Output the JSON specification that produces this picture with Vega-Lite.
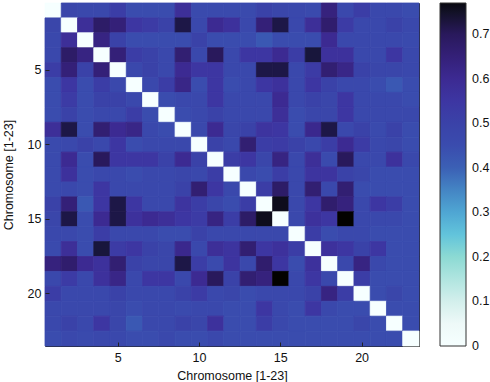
{
"$schema": "https://vega.github.io/schema/vega-lite/v6.json",
"width": 374, "height": 343,
"autosize": "none",
"padding": {"left": 45, "top": 3, "right": 71, "bottom": 36},
"background": "white",
"config": {"view": {"stroke": "#222", "strokeWidth": 1}, "font": "Liberation Sans",
  "axis": {"labelFont": "Liberation Sans", "titleFont": "Liberation Sans", "labelFontSize": 12.5, "titleFontSize": 12.5, "titleFontWeight": "normal", "labelColor": "#111", "titleColor": "#111", "domain": false, "tickColor": "#222", "grid": false},
  "legend": {"labelFont": "Liberation Sans"}},
"data": {"values": [
{"r":1,"c":1,"v":0},{"r":1,"c":2,"v":0.48},{"r":1,"c":3,"v":0.47},{"r":1,"c":4,"v":0.47},{"r":1,"c":5,"v":0.52},{"r":1,"c":6,"v":0.45},{"r":1,"c":7,"v":0.45},{"r":1,"c":8,"v":0.45},{"r":1,"c":9,"v":0.58},{"r":1,"c":10,"v":0.46},{"r":1,"c":11,"v":0.46},{"r":1,"c":12,"v":0.46},{"r":1,"c":13,"v":0.46},{"r":1,"c":14,"v":0.5},{"r":1,"c":15,"v":0.48},{"r":1,"c":16,"v":0.47},{"r":1,"c":17,"v":0.46},{"r":1,"c":18,"v":0.64},{"r":1,"c":19,"v":0.47},{"r":1,"c":20,"v":0.52},{"r":1,"c":21,"v":0.47},{"r":1,"c":22,"v":0.47},{"r":1,"c":23,"v":0.45},
{"r":2,"c":1,"v":0.48},{"r":2,"c":2,"v":0},{"r":2,"c":3,"v":0.58},{"r":2,"c":4,"v":0.68},{"r":2,"c":5,"v":0.65},{"r":2,"c":6,"v":0.55},{"r":2,"c":7,"v":0.53},{"r":2,"c":8,"v":0.5},{"r":2,"c":9,"v":0.72},{"r":2,"c":10,"v":0.47},{"r":2,"c":11,"v":0.6},{"r":2,"c":12,"v":0.57},{"r":2,"c":13,"v":0.47},{"r":2,"c":14,"v":0.65},{"r":2,"c":15,"v":0.72},{"r":2,"c":16,"v":0.47},{"r":2,"c":17,"v":0.58},{"r":2,"c":18,"v":0.67},{"r":2,"c":19,"v":0.53},{"r":2,"c":20,"v":0.47},{"r":2,"c":21,"v":0.47},{"r":2,"c":22,"v":0.5},{"r":2,"c":23,"v":0.47},
{"r":3,"c":1,"v":0.47},{"r":3,"c":2,"v":0.58},{"r":3,"c":3,"v":0},{"r":3,"c":4,"v":0.63},{"r":3,"c":5,"v":0.5},{"r":3,"c":6,"v":0.45},{"r":3,"c":7,"v":0.45},{"r":3,"c":8,"v":0.45},{"r":3,"c":9,"v":0.45},{"r":3,"c":10,"v":0.5},{"r":3,"c":11,"v":0.45},{"r":3,"c":12,"v":0.45},{"r":3,"c":13,"v":0.45},{"r":3,"c":14,"v":0.42},{"r":3,"c":15,"v":0.45},{"r":3,"c":16,"v":0.45},{"r":3,"c":17,"v":0.45},{"r":3,"c":18,"v":0.6},{"r":3,"c":19,"v":0.47},{"r":3,"c":20,"v":0.47},{"r":3,"c":21,"v":0.47},{"r":3,"c":22,"v":0.47},{"r":3,"c":23,"v":0.46},
{"r":4,"c":1,"v":0.47},{"r":4,"c":2,"v":0.68},{"r":4,"c":3,"v":0.63},{"r":4,"c":4,"v":0},{"r":4,"c":5,"v":0.65},{"r":4,"c":6,"v":0.52},{"r":4,"c":7,"v":0.5},{"r":4,"c":8,"v":0.47},{"r":4,"c":9,"v":0.66},{"r":4,"c":10,"v":0.47},{"r":4,"c":11,"v":0.7},{"r":4,"c":12,"v":0.47},{"r":4,"c":13,"v":0.55},{"r":4,"c":14,"v":0.55},{"r":4,"c":15,"v":0.6},{"r":4,"c":16,"v":0.52},{"r":4,"c":17,"v":0.73},{"r":4,"c":18,"v":0.57},{"r":4,"c":19,"v":0.57},{"r":4,"c":20,"v":0.47},{"r":4,"c":21,"v":0.47},{"r":4,"c":22,"v":0.55},{"r":4,"c":23,"v":0.47},
{"r":5,"c":1,"v":0.52},{"r":5,"c":2,"v":0.65},{"r":5,"c":3,"v":0.5},{"r":5,"c":4,"v":0.65},{"r":5,"c":5,"v":0},{"r":5,"c":6,"v":0.47},{"r":5,"c":7,"v":0.5},{"r":5,"c":8,"v":0.47},{"r":5,"c":9,"v":0.6},{"r":5,"c":10,"v":0.55},{"r":5,"c":11,"v":0.55},{"r":5,"c":12,"v":0.47},{"r":5,"c":13,"v":0.47},{"r":5,"c":14,"v":0.72},{"r":5,"c":15,"v":0.72},{"r":5,"c":16,"v":0.47},{"r":5,"c":17,"v":0.53},{"r":5,"c":18,"v":0.66},{"r":5,"c":19,"v":0.62},{"r":5,"c":20,"v":0.5},{"r":5,"c":21,"v":0.48},{"r":5,"c":22,"v":0.48},{"r":5,"c":23,"v":0.47},
{"r":6,"c":1,"v":0.45},{"r":6,"c":2,"v":0.55},{"r":6,"c":3,"v":0.45},{"r":6,"c":4,"v":0.52},{"r":6,"c":5,"v":0.47},{"r":6,"c":6,"v":0},{"r":6,"c":7,"v":0.47},{"r":6,"c":8,"v":0.52},{"r":6,"c":9,"v":0.62},{"r":6,"c":10,"v":0.45},{"r":6,"c":11,"v":0.55},{"r":6,"c":12,"v":0.45},{"r":6,"c":13,"v":0.47},{"r":6,"c":14,"v":0.55},{"r":6,"c":15,"v":0.57},{"r":6,"c":16,"v":0.47},{"r":6,"c":17,"v":0.55},{"r":6,"c":18,"v":0.5},{"r":6,"c":19,"v":0.47},{"r":6,"c":20,"v":0.47},{"r":6,"c":21,"v":0.45},{"r":6,"c":22,"v":0.42},{"r":6,"c":23,"v":0.45},
{"r":7,"c":1,"v":0.45},{"r":7,"c":2,"v":0.53},{"r":7,"c":3,"v":0.45},{"r":7,"c":4,"v":0.5},{"r":7,"c":5,"v":0.5},{"r":7,"c":6,"v":0.47},{"r":7,"c":7,"v":0},{"r":7,"c":8,"v":0.45},{"r":7,"c":9,"v":0.47},{"r":7,"c":10,"v":0.47},{"r":7,"c":11,"v":0.55},{"r":7,"c":12,"v":0.47},{"r":7,"c":13,"v":0.47},{"r":7,"c":14,"v":0.47},{"r":7,"c":15,"v":0.6},{"r":7,"c":16,"v":0.47},{"r":7,"c":17,"v":0.5},{"r":7,"c":18,"v":0.48},{"r":7,"c":19,"v":0.55},{"r":7,"c":20,"v":0.47},{"r":7,"c":21,"v":0.47},{"r":7,"c":22,"v":0.47},{"r":7,"c":23,"v":0.45},
{"r":8,"c":1,"v":0.45},{"r":8,"c":2,"v":0.5},{"r":8,"c":3,"v":0.45},{"r":8,"c":4,"v":0.47},{"r":8,"c":5,"v":0.47},{"r":8,"c":6,"v":0.52},{"r":8,"c":7,"v":0.45},{"r":8,"c":8,"v":0},{"r":8,"c":9,"v":0.45},{"r":8,"c":10,"v":0.47},{"r":8,"c":11,"v":0.5},{"r":8,"c":12,"v":0.47},{"r":8,"c":13,"v":0.47},{"r":8,"c":14,"v":0.47},{"r":8,"c":15,"v":0.58},{"r":8,"c":16,"v":0.45},{"r":8,"c":17,"v":0.48},{"r":8,"c":18,"v":0.48},{"r":8,"c":19,"v":0.55},{"r":8,"c":20,"v":0.47},{"r":8,"c":21,"v":0.47},{"r":8,"c":22,"v":0.47},{"r":8,"c":23,"v":0.47},
{"r":9,"c":1,"v":0.58},{"r":9,"c":2,"v":0.72},{"r":9,"c":3,"v":0.45},{"r":9,"c":4,"v":0.66},{"r":9,"c":5,"v":0.6},{"r":9,"c":6,"v":0.62},{"r":9,"c":7,"v":0.47},{"r":9,"c":8,"v":0.45},{"r":9,"c":9,"v":0},{"r":9,"c":10,"v":0.47},{"r":9,"c":11,"v":0.6},{"r":9,"c":12,"v":0.48},{"r":9,"c":13,"v":0.5},{"r":9,"c":14,"v":0.56},{"r":9,"c":15,"v":0.55},{"r":9,"c":16,"v":0.45},{"r":9,"c":17,"v":0.61},{"r":9,"c":18,"v":0.72},{"r":9,"c":19,"v":0.47},{"r":9,"c":20,"v":0.5},{"r":9,"c":21,"v":0.46},{"r":9,"c":22,"v":0.5},{"r":9,"c":23,"v":0.45},
{"r":10,"c":1,"v":0.46},{"r":10,"c":2,"v":0.47},{"r":10,"c":3,"v":0.5},{"r":10,"c":4,"v":0.47},{"r":10,"c":5,"v":0.55},{"r":10,"c":6,"v":0.45},{"r":10,"c":7,"v":0.47},{"r":10,"c":8,"v":0.47},{"r":10,"c":9,"v":0.47},{"r":10,"c":10,"v":0},{"r":10,"c":11,"v":0.5},{"r":10,"c":12,"v":0.47},{"r":10,"c":13,"v":0.66},{"r":10,"c":14,"v":0.52},{"r":10,"c":15,"v":0.53},{"r":10,"c":16,"v":0.5},{"r":10,"c":17,"v":0.47},{"r":10,"c":18,"v":0.52},{"r":10,"c":19,"v":0.6},{"r":10,"c":20,"v":0.53},{"r":10,"c":21,"v":0.47},{"r":10,"c":22,"v":0.48},{"r":10,"c":23,"v":0.45},
{"r":11,"c":1,"v":0.46},{"r":11,"c":2,"v":0.6},{"r":11,"c":3,"v":0.45},{"r":11,"c":4,"v":0.7},{"r":11,"c":5,"v":0.55},{"r":11,"c":6,"v":0.55},{"r":11,"c":7,"v":0.55},{"r":11,"c":8,"v":0.5},{"r":11,"c":9,"v":0.6},{"r":11,"c":10,"v":0.5},{"r":11,"c":11,"v":0},{"r":11,"c":12,"v":0.52},{"r":11,"c":13,"v":0.55},{"r":11,"c":14,"v":0.48},{"r":11,"c":15,"v":0.63},{"r":11,"c":16,"v":0.47},{"r":11,"c":17,"v":0.58},{"r":11,"c":18,"v":0.46},{"r":11,"c":19,"v":0.7},{"r":11,"c":20,"v":0.47},{"r":11,"c":21,"v":0.47},{"r":11,"c":22,"v":0.57},{"r":11,"c":23,"v":0.47},
{"r":12,"c":1,"v":0.46},{"r":12,"c":2,"v":0.57},{"r":12,"c":3,"v":0.45},{"r":12,"c":4,"v":0.47},{"r":12,"c":5,"v":0.47},{"r":12,"c":6,"v":0.45},{"r":12,"c":7,"v":0.47},{"r":12,"c":8,"v":0.47},{"r":12,"c":9,"v":0.48},{"r":12,"c":10,"v":0.47},{"r":12,"c":11,"v":0.52},{"r":12,"c":12,"v":0},{"r":12,"c":13,"v":0.47},{"r":12,"c":14,"v":0.45},{"r":12,"c":15,"v":0.52},{"r":12,"c":16,"v":0.47},{"r":12,"c":17,"v":0.56},{"r":12,"c":18,"v":0.56},{"r":12,"c":19,"v":0.5},{"r":12,"c":20,"v":0.48},{"r":12,"c":21,"v":0.45},{"r":12,"c":22,"v":0.45},{"r":12,"c":23,"v":0.45},
{"r":13,"c":1,"v":0.46},{"r":13,"c":2,"v":0.47},{"r":13,"c":3,"v":0.45},{"r":13,"c":4,"v":0.55},{"r":13,"c":5,"v":0.47},{"r":13,"c":6,"v":0.47},{"r":13,"c":7,"v":0.47},{"r":13,"c":8,"v":0.47},{"r":13,"c":9,"v":0.5},{"r":13,"c":10,"v":0.66},{"r":13,"c":11,"v":0.55},{"r":13,"c":12,"v":0.47},{"r":13,"c":13,"v":0},{"r":13,"c":14,"v":0.52},{"r":13,"c":15,"v":0.68},{"r":13,"c":16,"v":0.47},{"r":13,"c":17,"v":0.66},{"r":13,"c":18,"v":0.47},{"r":13,"c":19,"v":0.66},{"r":13,"c":20,"v":0.45},{"r":13,"c":21,"v":0.45},{"r":13,"c":22,"v":0.45},{"r":13,"c":23,"v":0.45},
{"r":14,"c":1,"v":0.5},{"r":14,"c":2,"v":0.65},{"r":14,"c":3,"v":0.42},{"r":14,"c":4,"v":0.55},{"r":14,"c":5,"v":0.72},{"r":14,"c":6,"v":0.55},{"r":14,"c":7,"v":0.47},{"r":14,"c":8,"v":0.47},{"r":14,"c":9,"v":0.56},{"r":14,"c":10,"v":0.52},{"r":14,"c":11,"v":0.48},{"r":14,"c":12,"v":0.45},{"r":14,"c":13,"v":0.52},{"r":14,"c":14,"v":0},{"r":14,"c":15,"v":0.76},{"r":14,"c":16,"v":0.47},{"r":14,"c":17,"v":0.55},{"r":14,"c":18,"v":0.67},{"r":14,"c":19,"v":0.64},{"r":14,"c":20,"v":0.47},{"r":14,"c":21,"v":0.55},{"r":14,"c":22,"v":0.52},{"r":14,"c":23,"v":0.45},
{"r":15,"c":1,"v":0.48},{"r":15,"c":2,"v":0.72},{"r":15,"c":3,"v":0.45},{"r":15,"c":4,"v":0.6},{"r":15,"c":5,"v":0.72},{"r":15,"c":6,"v":0.57},{"r":15,"c":7,"v":0.6},{"r":15,"c":8,"v":0.58},{"r":15,"c":9,"v":0.55},{"r":15,"c":10,"v":0.53},{"r":15,"c":11,"v":0.63},{"r":15,"c":12,"v":0.52},{"r":15,"c":13,"v":0.68},{"r":15,"c":14,"v":0.76},{"r":15,"c":15,"v":0},{"r":15,"c":16,"v":0.47},{"r":15,"c":17,"v":0.57},{"r":15,"c":18,"v":0.55},{"r":15,"c":19,"v":0.78},{"r":15,"c":20,"v":0.47},{"r":15,"c":21,"v":0.47},{"r":15,"c":22,"v":0.47},{"r":15,"c":23,"v":0.45},
{"r":16,"c":1,"v":0.47},{"r":16,"c":2,"v":0.47},{"r":16,"c":3,"v":0.45},{"r":16,"c":4,"v":0.52},{"r":16,"c":5,"v":0.47},{"r":16,"c":6,"v":0.47},{"r":16,"c":7,"v":0.47},{"r":16,"c":8,"v":0.45},{"r":16,"c":9,"v":0.45},{"r":16,"c":10,"v":0.5},{"r":16,"c":11,"v":0.47},{"r":16,"c":12,"v":0.47},{"r":16,"c":13,"v":0.47},{"r":16,"c":14,"v":0.47},{"r":16,"c":15,"v":0.47},{"r":16,"c":16,"v":0},{"r":16,"c":17,"v":0.52},{"r":16,"c":18,"v":0.45},{"r":16,"c":19,"v":0.47},{"r":16,"c":20,"v":0.47},{"r":16,"c":21,"v":0.45},{"r":16,"c":22,"v":0.45},{"r":16,"c":23,"v":0.45},
{"r":17,"c":1,"v":0.46},{"r":17,"c":2,"v":0.58},{"r":17,"c":3,"v":0.45},{"r":17,"c":4,"v":0.73},{"r":17,"c":5,"v":0.53},{"r":17,"c":6,"v":0.55},{"r":17,"c":7,"v":0.5},{"r":17,"c":8,"v":0.48},{"r":17,"c":9,"v":0.61},{"r":17,"c":10,"v":0.47},{"r":17,"c":11,"v":0.58},{"r":17,"c":12,"v":0.56},{"r":17,"c":13,"v":0.66},{"r":17,"c":14,"v":0.55},{"r":17,"c":15,"v":0.57},{"r":17,"c":16,"v":0.52},{"r":17,"c":17,"v":0},{"r":17,"c":18,"v":0.57},{"r":17,"c":19,"v":0.55},{"r":17,"c":20,"v":0.5},{"r":17,"c":21,"v":0.55},{"r":17,"c":22,"v":0.45},{"r":17,"c":23,"v":0.45},
{"r":18,"c":1,"v":0.64},{"r":18,"c":2,"v":0.67},{"r":18,"c":3,"v":0.6},{"r":18,"c":4,"v":0.57},{"r":18,"c":5,"v":0.66},{"r":18,"c":6,"v":0.5},{"r":18,"c":7,"v":0.48},{"r":18,"c":8,"v":0.48},{"r":18,"c":9,"v":0.72},{"r":18,"c":10,"v":0.52},{"r":18,"c":11,"v":0.46},{"r":18,"c":12,"v":0.56},{"r":18,"c":13,"v":0.47},{"r":18,"c":14,"v":0.67},{"r":18,"c":15,"v":0.55},{"r":18,"c":16,"v":0.45},{"r":18,"c":17,"v":0.57},{"r":18,"c":18,"v":0},{"r":18,"c":19,"v":0.47},{"r":18,"c":20,"v":0.63},{"r":18,"c":21,"v":0.47},{"r":18,"c":22,"v":0.45},{"r":18,"c":23,"v":0.45},
{"r":19,"c":1,"v":0.47},{"r":19,"c":2,"v":0.53},{"r":19,"c":3,"v":0.47},{"r":19,"c":4,"v":0.57},{"r":19,"c":5,"v":0.62},{"r":19,"c":6,"v":0.47},{"r":19,"c":7,"v":0.55},{"r":19,"c":8,"v":0.55},{"r":19,"c":9,"v":0.47},{"r":19,"c":10,"v":0.6},{"r":19,"c":11,"v":0.7},{"r":19,"c":12,"v":0.5},{"r":19,"c":13,"v":0.66},{"r":19,"c":14,"v":0.64},{"r":19,"c":15,"v":0.78},{"r":19,"c":16,"v":0.47},{"r":19,"c":17,"v":0.55},{"r":19,"c":18,"v":0.47},{"r":19,"c":19,"v":0},{"r":19,"c":20,"v":0.52},{"r":19,"c":21,"v":0.45},{"r":19,"c":22,"v":0.45},{"r":19,"c":23,"v":0.45},
{"r":20,"c":1,"v":0.52},{"r":20,"c":2,"v":0.47},{"r":20,"c":3,"v":0.47},{"r":20,"c":4,"v":0.47},{"r":20,"c":5,"v":0.5},{"r":20,"c":6,"v":0.47},{"r":20,"c":7,"v":0.47},{"r":20,"c":8,"v":0.47},{"r":20,"c":9,"v":0.5},{"r":20,"c":10,"v":0.53},{"r":20,"c":11,"v":0.47},{"r":20,"c":12,"v":0.48},{"r":20,"c":13,"v":0.45},{"r":20,"c":14,"v":0.47},{"r":20,"c":15,"v":0.47},{"r":20,"c":16,"v":0.47},{"r":20,"c":17,"v":0.5},{"r":20,"c":18,"v":0.63},{"r":20,"c":19,"v":0.52},{"r":20,"c":20,"v":0},{"r":20,"c":21,"v":0.45},{"r":20,"c":22,"v":0.48},{"r":20,"c":23,"v":0.45},
{"r":21,"c":1,"v":0.47},{"r":21,"c":2,"v":0.47},{"r":21,"c":3,"v":0.47},{"r":21,"c":4,"v":0.47},{"r":21,"c":5,"v":0.48},{"r":21,"c":6,"v":0.45},{"r":21,"c":7,"v":0.47},{"r":21,"c":8,"v":0.47},{"r":21,"c":9,"v":0.46},{"r":21,"c":10,"v":0.47},{"r":21,"c":11,"v":0.47},{"r":21,"c":12,"v":0.45},{"r":21,"c":13,"v":0.45},{"r":21,"c":14,"v":0.55},{"r":21,"c":15,"v":0.47},{"r":21,"c":16,"v":0.45},{"r":21,"c":17,"v":0.55},{"r":21,"c":18,"v":0.47},{"r":21,"c":19,"v":0.45},{"r":21,"c":20,"v":0.45},{"r":21,"c":21,"v":0},{"r":21,"c":22,"v":0.45},{"r":21,"c":23,"v":0.45},
{"r":22,"c":1,"v":0.47},{"r":22,"c":2,"v":0.5},{"r":22,"c":3,"v":0.47},{"r":22,"c":4,"v":0.55},{"r":22,"c":5,"v":0.48},{"r":22,"c":6,"v":0.42},{"r":22,"c":7,"v":0.47},{"r":22,"c":8,"v":0.47},{"r":22,"c":9,"v":0.5},{"r":22,"c":10,"v":0.48},{"r":22,"c":11,"v":0.57},{"r":22,"c":12,"v":0.45},{"r":22,"c":13,"v":0.45},{"r":22,"c":14,"v":0.52},{"r":22,"c":15,"v":0.47},{"r":22,"c":16,"v":0.45},{"r":22,"c":17,"v":0.45},{"r":22,"c":18,"v":0.45},{"r":22,"c":19,"v":0.45},{"r":22,"c":20,"v":0.48},{"r":22,"c":21,"v":0.45},{"r":22,"c":22,"v":0},{"r":22,"c":23,"v":0.45},
{"r":23,"c":1,"v":0.45},{"r":23,"c":2,"v":0.47},{"r":23,"c":3,"v":0.46},{"r":23,"c":4,"v":0.47},{"r":23,"c":5,"v":0.47},{"r":23,"c":6,"v":0.45},{"r":23,"c":7,"v":0.45},{"r":23,"c":8,"v":0.47},{"r":23,"c":9,"v":0.45},{"r":23,"c":10,"v":0.45},{"r":23,"c":11,"v":0.47},{"r":23,"c":12,"v":0.45},{"r":23,"c":13,"v":0.45},{"r":23,"c":14,"v":0.45},{"r":23,"c":15,"v":0.45},{"r":23,"c":16,"v":0.45},{"r":23,"c":17,"v":0.45},{"r":23,"c":18,"v":0.45},{"r":23,"c":19,"v":0.45},{"r":23,"c":20,"v":0.45},{"r":23,"c":21,"v":0.45},{"r":23,"c":22,"v":0.45},{"r":23,"c":23,"v":0}
]},
"mark": {"type": "rect", "strokeWidth": 0.8, "stroke": {"expr": "scale('color', datum.v)"}},
"encoding": {
  "x": {"field": "c", "type": "ordinal", "scale": {"paddingInner": 0, "paddingOuter": 0},
    "axis": {"values": [5, 10, 15, 20], "labelAngle": 0, "title": "Chromosome [1-23]", "tickSize": -4, "labelPadding": 9, "titlePadding": 6}},
  "y": {"field": "r", "type": "ordinal", "scale": {"paddingInner": 0, "paddingOuter": 0},
    "axis": {"values": [5, 10, 15, 20], "title": "Chromosome [1-23]", "tickSize": -4, "labelPadding": 8, "titlePadding": 12}},
  "color": {"field": "v", "type": "quantitative",
    "scale": {"domain": [0, 0.05, 0.1, 0.15, 0.2, 0.25, 0.3, 0.35, 0.4, 0.45, 0.5, 0.55, 0.6, 0.65, 0.7, 0.77],
      "range": ["#ffffff", "#eef9f8", "#d3efec", "#b0e5e0", "#8cdad3", "#62c4db", "#4fa6d3", "#4485c4", "#3b60b5", "#3a4cae", "#3a42a8", "#3d36a2", "#3c2a92", "#342078", "#29195c", "#080810"]},
    "legend": {"type": "gradient", "title": null, "orient": "right", "offset": 21, "padding": 0, "values": [0, 0.1, 0.2, 0.3, 0.4, 0.5, 0.6, 0.7], "format": "~g",
      "gradientLength": 343, "gradientThickness": 26, "gradientStrokeColor": "#333", "gradientStrokeWidth": 1,
      "labelFontSize": 12.5, "labelColor": "#111", "labelOffset": 6, "labelOverlap": false,
      "encode": {"labels": {"update": {"baseline": {"value": "middle"}}}}}}
}
}
